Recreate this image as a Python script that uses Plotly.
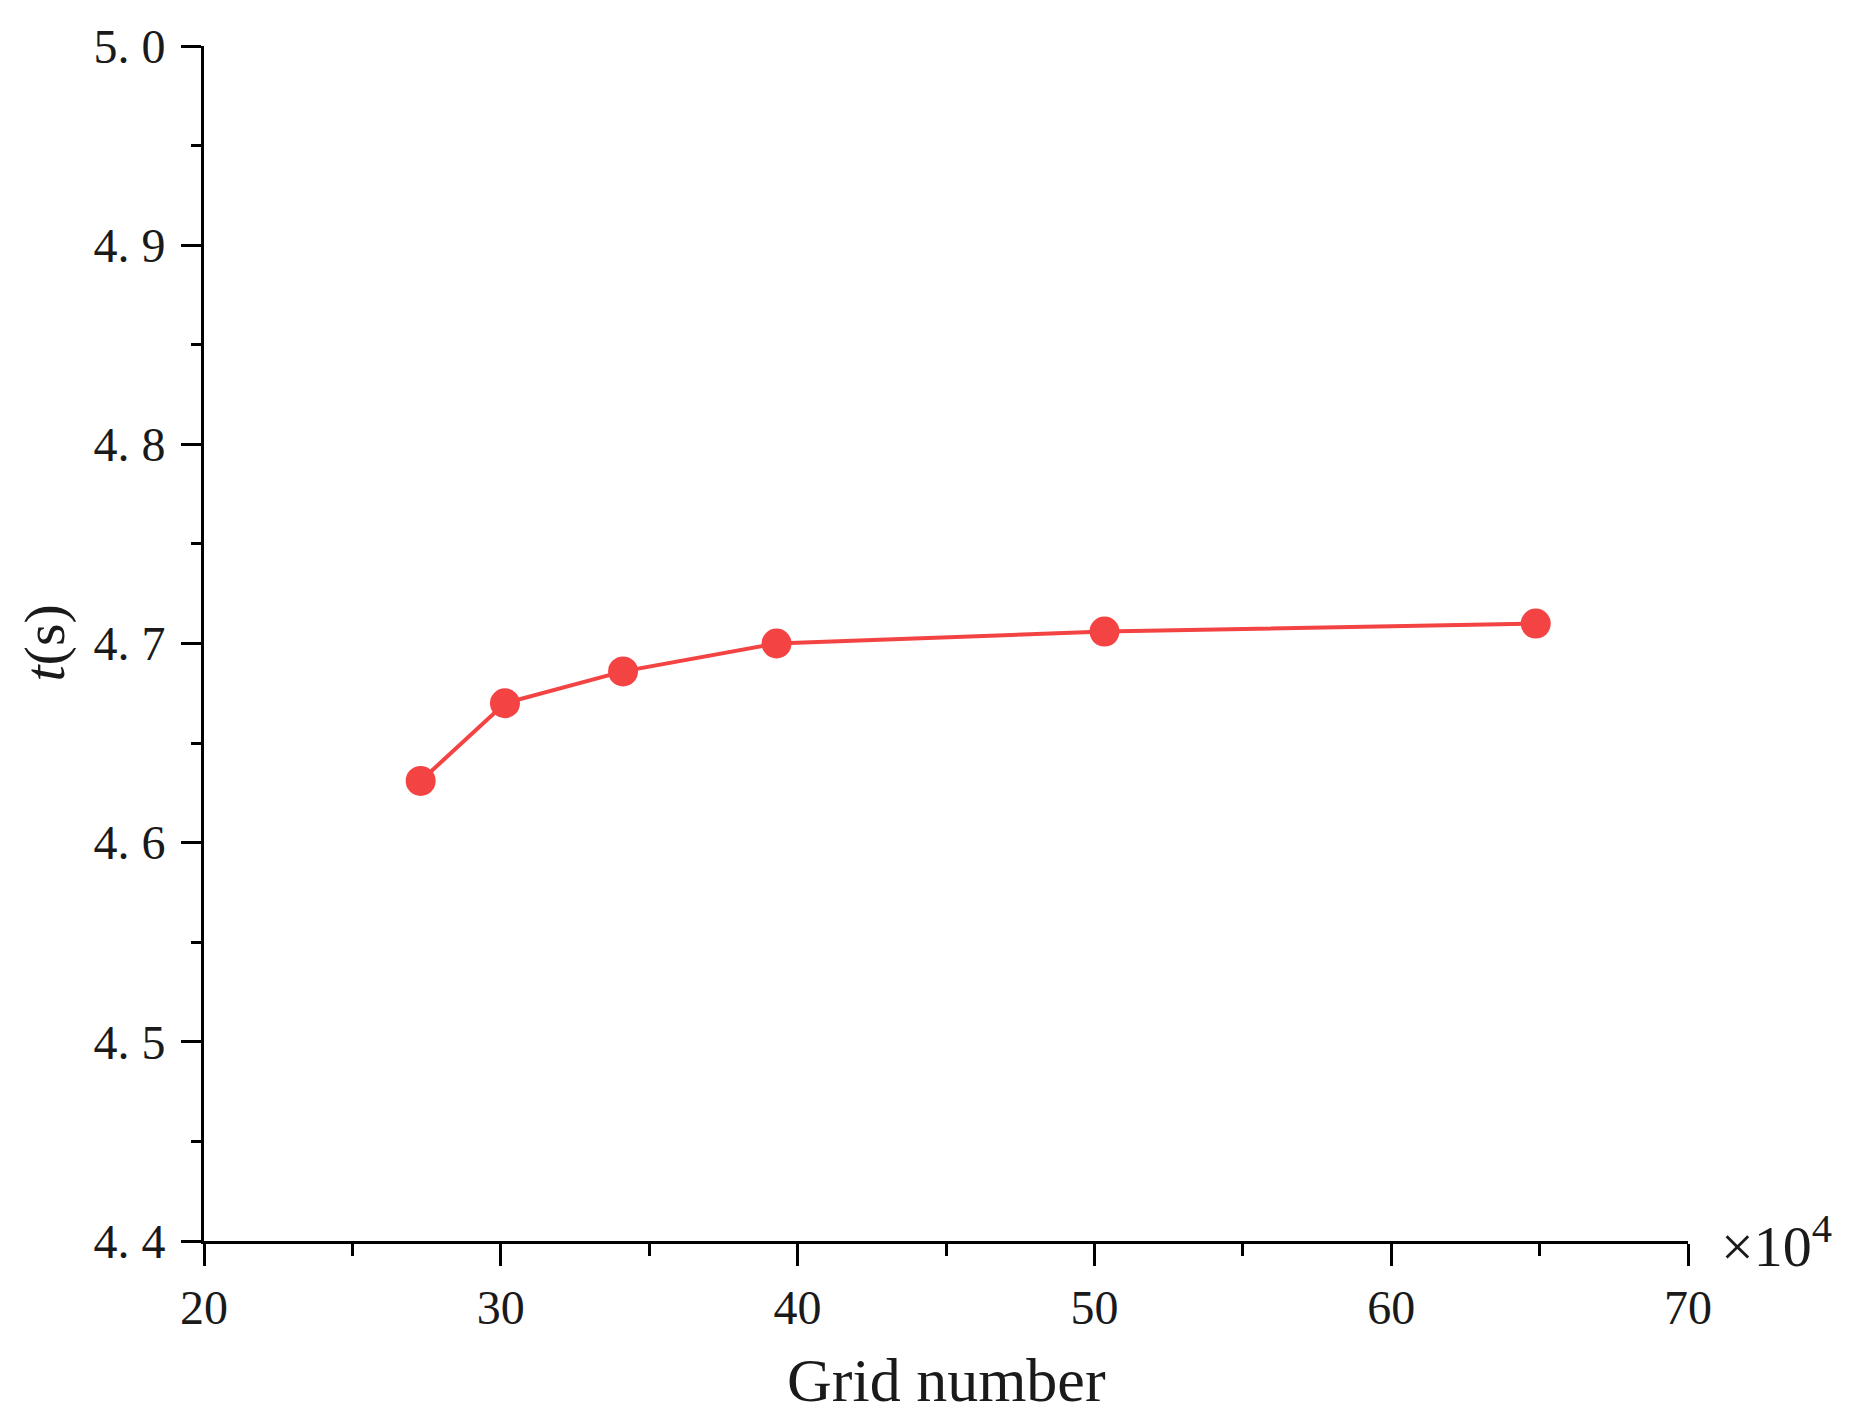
import plotly.graph_objects as go

# Data (grid number in units of 10^4, time in s)
grid_number = [27.3, 30.14, 34.12, 39.29, 50.34, 64.87]
t_values = [4.631, 4.670, 4.686, 4.700, 4.706, 4.710]

x_ticks = [20, 30, 40, 50, 60, 70]
x_ticktext = ["20", "30", "40", "50", "60", "70"]
y_ticks = [4.4, 4.5, 4.6, 4.7, 4.8, 4.9, 5.0]
y_ticktext = ["4. 4", "4. 5", "4. 6", "4. 7", "4. 8", "4. 9", "5. 0"]

RED = "#F44343"
SERIF = "Liberation Serif, Times New Roman, serif"
W, H = 1860, 1428
# page body has an 8px margin; compensate
OFF = 8
L, R, T, B = 204 - OFF, 1860 - (1688 - OFF), 40 - OFF, 1428 - (1241 - OFF)

fig = go.Figure()
fig.add_trace(go.Scatter(
    x=grid_number, y=t_values, mode="lines+markers",
    line=dict(color=RED, width=4),
    marker=dict(color=RED, size=30),
    showlegend=False, hoverinfo="x+y",
))

axis_common = dict(
    showgrid=False, zeroline=False, showline=True, linecolor="black",
    linewidth=3, ticks="outside", tickwidth=3, tickcolor="black",
    tickfont=dict(family=SERIF, size=48, color="#1a1a1a"),
)

fig.update_xaxes(
    range=[20, 70], tickmode="array", tickvals=x_ticks, ticktext=x_ticktext,
    ticklen=22,
    minor=dict(ticks="outside", ticklen=12, tickwidth=3, tickcolor="black",
               tick0=25, dtick=10, showgrid=False),
    **axis_common,
)
fig.update_yaxes(
    range=[4.4, 5.0], tickmode="array", tickvals=y_ticks, ticktext=y_ticktext,
    ticklen=20, ticklabelstandoff=6,
    minor=dict(ticks="outside", ticklen=10, tickwidth=3, tickcolor="black",
               tick0=4.45, dtick=0.1, showgrid=False),
    **axis_common,
)

pw = W - L - R
ph = H - T - B
x0 = L + OFF          # page x of plot left
ybot = H - B + OFF    # page y of plot bottom

annotations = [
    dict(text="Grid number", xref="paper", yref="paper",
         x=0.5, y=(ybot - 1381) / ph, xanchor="center", yanchor="middle",
         showarrow=False, font=dict(family=SERIF, size=62, color="#1a1a1a")),
    dict(text="<i>t</i>(s)", xref="paper", yref="paper",
         x=(44 - x0) / pw, y=0.5, xanchor="center", yanchor="middle",
         textangle=-90, showarrow=False,
         font=dict(family=SERIF, size=58, color="#1a1a1a")),
    dict(text="×10<sup>4</sup>", xref="paper", yref="paper",
         x=(1719 - x0) / pw, y=(ybot - 1243) / ph, xanchor="left", yanchor="middle",
         showarrow=False, font=dict(family=SERIF, size=58, color="#1a1a1a")),
]

fig.update_layout(
    width=W, height=H,
    margin=dict(l=L, r=R, t=T, b=B, pad=0),
    plot_bgcolor="white", paper_bgcolor="white",
    annotations=annotations,
)

fig.write_html("out.html")
